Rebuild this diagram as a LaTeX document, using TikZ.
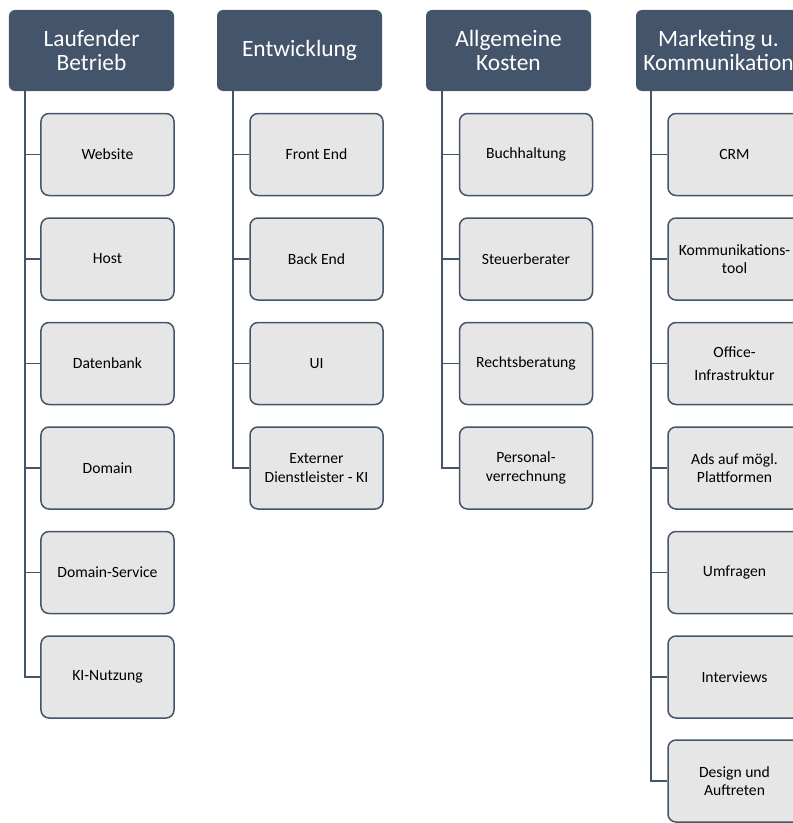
\documentclass[tikz,border=0pt]{standalone}
\usepackage{fontspec}
\setmainfont{Carlito}
\definecolor{slate}{HTML}{44546A}
\definecolor{cellgray}{HTML}{E7E6E6}
\tikzset{
  headbox/.style={rectangle, rounded corners=6bp, fill=slate, draw=none,
    text=white, minimum width=165bp, minimum height=81bp, inner sep=0pt,
    align=center, font=\fontsize{23.5}{25}\selectfont},
  itembox/.style={rectangle, rounded corners=8bp, fill=cellgray, draw=slate,
    line width=1.5bp, minimum width=133bp, minimum height=82bp, inner sep=0pt,
    align=center, font=\fontsize{15.7}{18.5}\selectfont},
  link/.style={draw=slate, line width=1.5bp}
}
\begin{document}
\begin{tikzpicture}[x=1bp,y=-1bp]
\useasboundingbox (0,0) rectangle (793,823);
\clip (0,0) rectangle (793,823);

% column headers
\node[headbox] (h1) at (91.5,50.5) {Laufender\\Betrieb};
\node[headbox] (h2) at (299.5,50.5) {Entwicklung};
\node[headbox] (h3) at (508.5,50.5) {Allgemeine\\Kosten};
\node[headbox] (h4) at (718.5,50.5) {Marketing u.\\Kommunikation};

% trunk start points under each header
\coordinate (t1) at (25,91);
\coordinate (t2) at (233,91);
\coordinate (t3) at (442,91);
\coordinate (t4) at (651,91);

% Laufender Betrieb
\node[itembox] (a1) at (107.5,154.5) {Website};
\node[itembox] (a2) at (107.5,259) {Host};
\node[itembox] (a3) at (107.5,363.5) {Datenbank};
\node[itembox] (a4) at (107.5,468) {Domain};
\node[itembox] (a5) at (107.5,572.5) {Domain-Service};
\node[itembox] (a6) at (107.5,677) {KI-Nutzung};

% Entwicklung
\node[itembox] (b1) at (316.5,154.5) {Front End};
\node[itembox] (b2) at (316.5,259) {Back End};
\node[itembox] (b3) at (316.5,363.5) {UI};
\node[itembox] (b4) at (316.5,468) {Externer\\Dienstleister - KI};

% Allgemeine Kosten
\node[itembox] (c1) at (526,154.5) {Buchhaltung};
\node[itembox] (c2) at (526,259) {Steuerberater};
\node[itembox] (c3) at (526,363.5) {Rechtsberatung};
\node[itembox] (c4) at (526,468) {Personal-\\verrechnung};

% Marketing u. Kommunikation
\node[itembox] (d1) at (734.5,154.5) {CRM};
\node[itembox] (d2) at (734.5,259) {Kommunikations-\\tool};
\node[itembox] (d3) at (734.5,363.5) {Office-\\[5bp]Infrastruktur};
\node[itembox] (d4) at (734.5,468) {Ads auf mögl.\\Plattformen};
\node[itembox] (d5) at (734.5,572.5) {Umfragen};
\node[itembox] (d6) at (734.5,677) {Interviews};
\node[itembox] (d7) at (734.5,781) {Design und\\Auftreten};

% connectors
\foreach \n in {a1,a2,a3,a4,a5,a6} \draw[link] (t1) |- (\n.west);
\foreach \n in {b1,b2,b3,b4} \draw[link] (t2) |- (\n.west);
\foreach \n in {c1,c2,c3,c4} \draw[link] (t3) |- (\n.west);
\foreach \n in {d1,d2,d3,d4,d5,d6,d7} \draw[link] (t4) |- (\n.west);
\end{tikzpicture}
\end{document}
